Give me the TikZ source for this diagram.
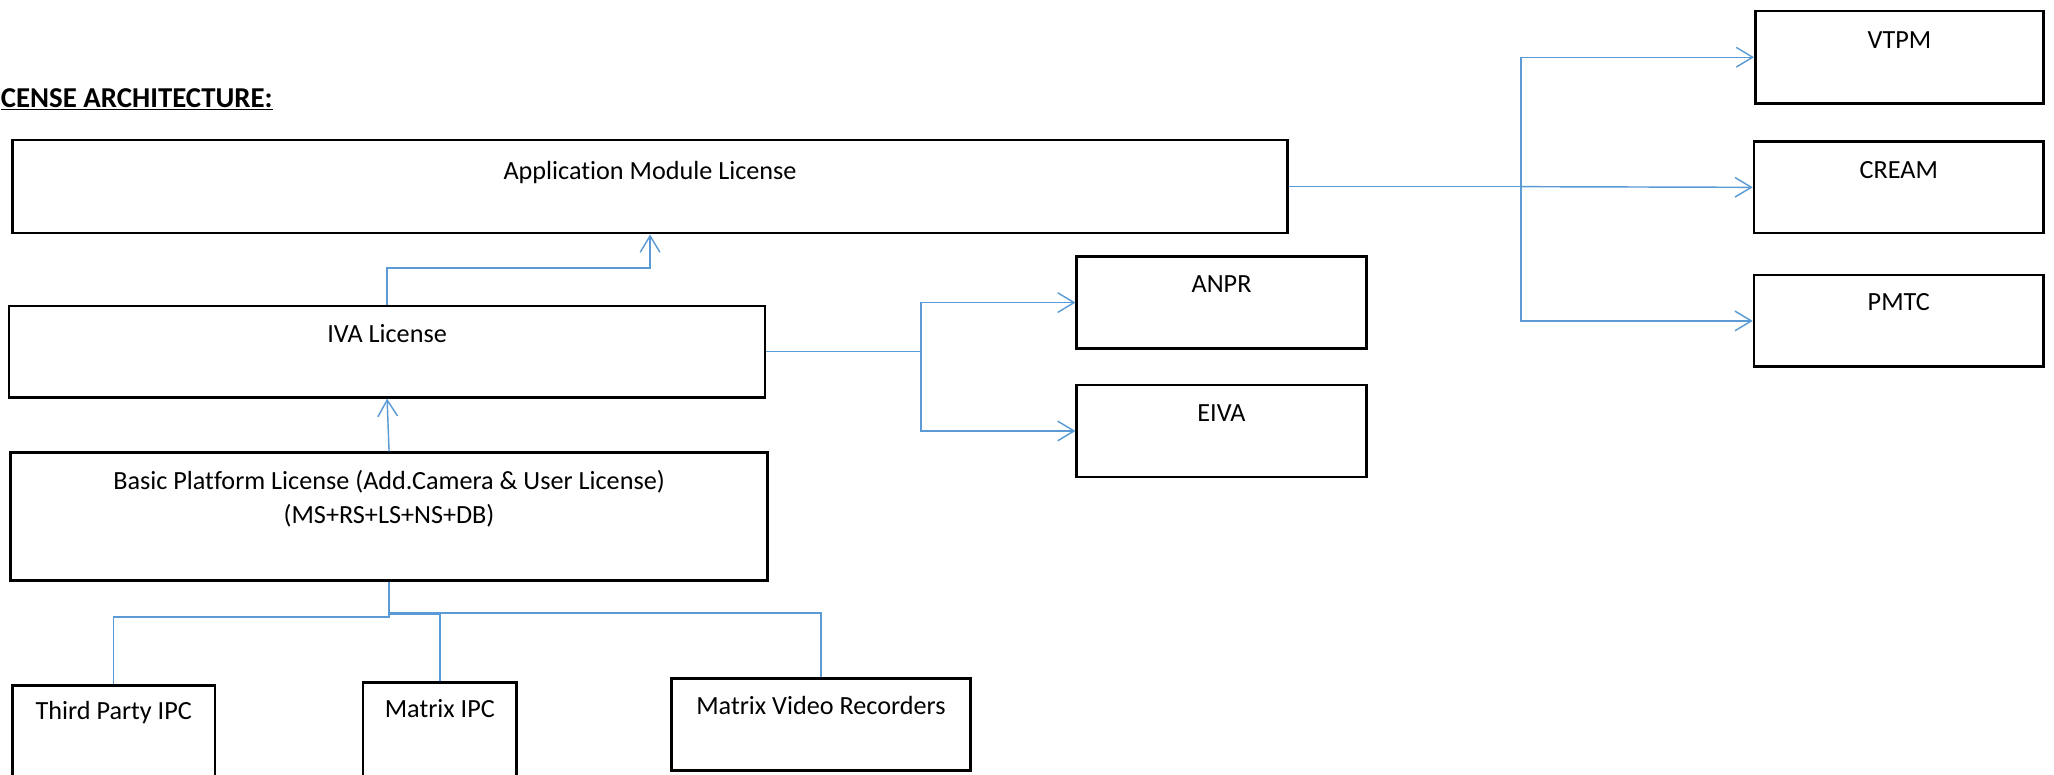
\documentclass[tikz,border=0pt]{standalone}
\usepackage{fontspec}
\setmainfont{Carlito}[Ligatures=NoCommon]
\usetikzlibrary{arrows.meta}
\definecolor{conn}{HTML}{5B9BD5}
\begin{document}
\begin{tikzpicture}[x=1pt,y=-1pt,
  box/.style={draw=black,line width=2pt,inner sep=0pt,fill=none},
  lbl/.style={anchor=base,inner sep=0pt,font=\fontsize{20}{24}\selectfont},
  link/.style={draw=conn,line width=1.1pt},
  arr/.style={link,-{Straight Barb[length=12.5pt,width=15pt,line width=1.1pt]}}]
\clip (0,0) rectangle (1568,591);
\fill[white] (0,0) rectangle (1568,591);
% title
\node[anchor=base west,inner sep=0pt,font=\bfseries\fontsize{22}{26}\selectfont] (title) at (0.5,82) {\underline{CENSE ARCHITECTURE:}};
% boxes
\node[box,minimum width=973.5pt,minimum height=71pt] (aml) at (496.25,142.5) {};
\node[box,minimum width=577pt,minimum height=69.7pt] (iva) at (295.5,268.45) {};
\node[box,minimum width=578pt,minimum height=97.5pt] (bpl) at (297,394.25) {};
\node[box,minimum width=154.4pt,minimum height=96.5pt] (tp) at (86.8,571.75) {};
\node[box,minimum width=117.5pt,minimum height=99.2pt] (mi) at (335.75,570.4) {};
\node[box,minimum width=228pt,minimum height=70.3pt] (mvr) at (626.7,553.15) {};
\node[box,minimum width=221pt,minimum height=70pt] (anpr) at (932.5,231) {};
\node[box,minimum width=221pt,minimum height=70pt] (eiva) at (932.5,329) {};
\node[box,minimum width=220pt,minimum height=70.6pt] (vtpm) at (1450,43.7) {};
\node[box,minimum width=221pt,minimum height=70pt] (cream) at (1449.5,143) {};
\node[box,minimum width=221pt,minimum height=70pt] (pmtc) at (1449.5,245) {};
% texts
\node[lbl] (t-aml) at (496.25,137) {Application Module License};
\node[lbl] (t-iva) at (295.5,261.6) {IVA License};
\node[lbl] (t-bpl1) at (297,374) {Basic Platform License (Add.Camera \& User License)};
\node[lbl] (t-bpl2) at (297,399.5) {(MS+RS+LS+NS+DB)};
\node[lbl] (t-tp) at (86.8,549.6) {Third Party IPC};
\node[lbl] (t-mi) at (335.75,547.9) {Matrix IPC};
\node[lbl] (t-mvr) at (626.7,545.8) {Matrix Video Recorders};
\node[lbl] (t-anpr) at (932.5,223.4) {ANPR};
\node[lbl] (t-eiva) at (932.5,322) {EIVA};
\node[lbl] (t-vtpm) at (1450,36.9) {VTPM};
\node[lbl] (t-cream) at (1449.5,136) {CREAM};
\node[lbl] (t-pmtc) at (1449.5,237) {PMTC};
% connectors
\coordinate (s1) at (1161,142.5);
\coordinate (s2) at (703,268.45);
\draw[link] (aml.east) -- (s1);
\draw[arr] (s1) |- (vtpm.west);
\draw[arr] (s1) -- (cream.west);
\draw[arr] (s1) |- (pmtc.west);
\draw[arr] (iva.north) -- ++(0,-28) -| (aml.south);
\draw[link] (iva.east) -- (s2);
\draw[arr] (s2) |- (anpr.west);
\draw[arr] (s2) |- (eiva.west);
\draw[arr] (bpl.north) -- (iva.south);
\draw[link] (bpl.south) -- ++(0,27) -| (tp.north);
\draw[link] (bpl.south) -- ++(0,25) -| (mi.north);
\draw[link] (bpl.south) -- ++(0,24) -| (mvr.north);
\end{tikzpicture}
\end{document}
